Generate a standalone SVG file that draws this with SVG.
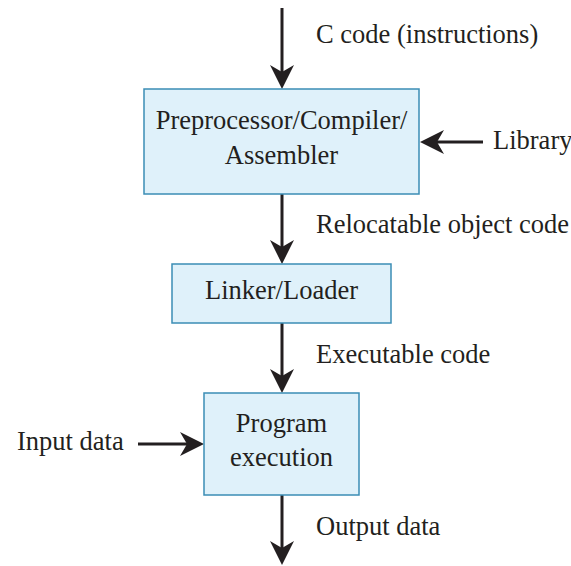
<svg xmlns="http://www.w3.org/2000/svg" width="571" height="566" viewBox="0 0 571 566">
<style>
.box{fill:#dff1fa;stroke:#3b8db5;stroke-width:1.5}
.t{font-family:"Liberation Serif","Times New Roman",serif;font-size:26.5px;fill:#231f20}
.c{text-anchor:middle}
.e{stroke:#231f20;stroke-width:3;fill:none;marker-end:url(#ah)}
</style>
<defs>
<marker id="ah" viewBox="0 0 24 24" refX="14" refY="12" markerWidth="24" markerHeight="24" markerUnits="userSpaceOnUse" orient="auto">
<path d="M0,0 L24,12 L0,24 L7,12 Z" fill="#231f20"/>
</marker>
</defs>
<rect width="571" height="566" fill="#fff"/>
<g id="connectors">
<line class="e" x1="282" y1="8" x2="282" y2="79"/>
<line class="e" x1="483" y1="142" x2="430" y2="142"/>
<line class="e" x1="282" y1="194" x2="282" y2="254"/>
<line class="e" x1="282" y1="323" x2="282" y2="383"/>
<line class="e" x1="138" y1="444" x2="194" y2="444"/>
<line class="e" x1="282" y1="495" x2="282" y2="555"/>
</g>
<g id="labels">
<text class="t" x="316" y="43">C code (instructions)</text>
<text class="t" x="493" y="149">Library</text>
<text class="t" x="316" y="233">Relocatable object code</text>
<text class="t" x="316" y="363">Executable code</text>
<text class="t" x="17" y="450">Input data</text>
<text class="t" x="316" y="535">Output data</text>
</g>
<g id="n1">
<rect class="box" x="144" y="89" width="275" height="105"/>
<text class="t c" x="281.5" y="129">Preprocessor/Compiler/</text>
<text class="t c" x="281.5" y="164">Assembler</text>
</g>
<g id="n2">
<rect class="box" x="172" y="264" width="219" height="59"/>
<text class="t c" x="281.5" y="299">Linker/Loader</text>
</g>
<g id="n3">
<rect class="box" x="204" y="393" width="155" height="102"/>
<text class="t c" x="281.5" y="432">Program</text>
<text class="t c" x="281.5" y="466">execution</text>
</g>
</svg>
